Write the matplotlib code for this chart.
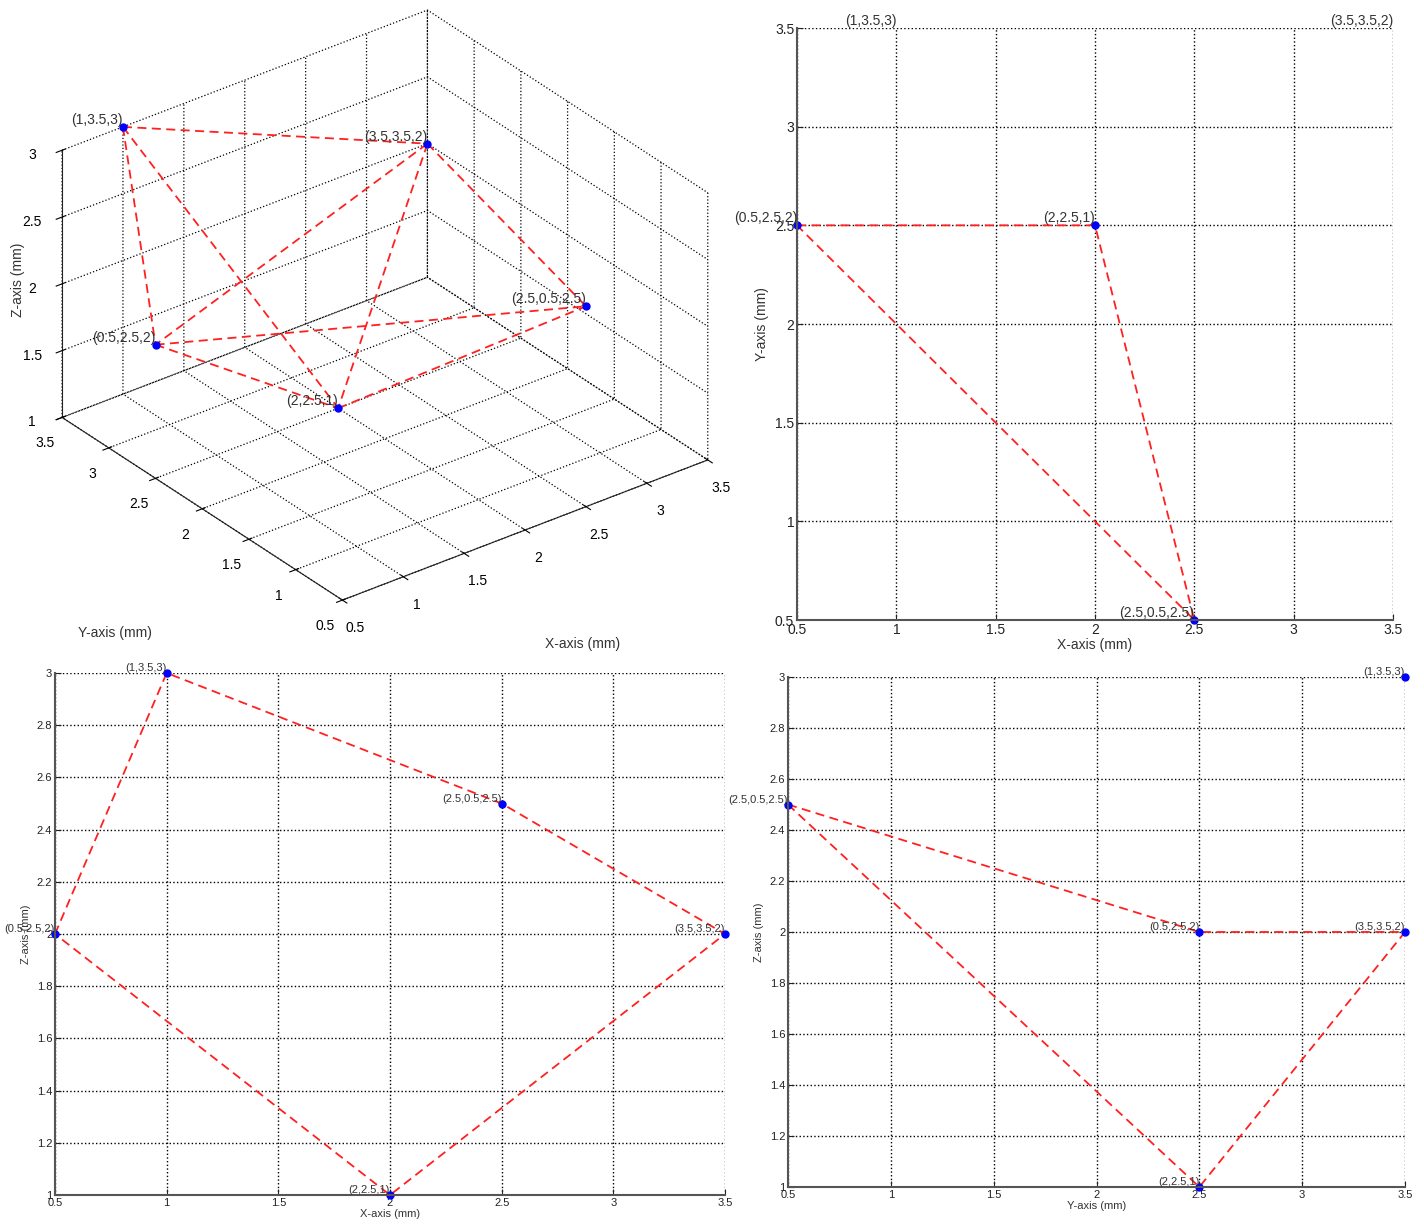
import matplotlib
matplotlib.use("Agg")
import matplotlib.pyplot as plt
import numpy as np

plt.rcParams['font.family'] = ['Liberation Sans', 'DejaVu Sans']
plt.rcParams['grid.linestyle'] = ':'
plt.rcParams['grid.color'] = 'k'
plt.rcParams['grid.linewidth'] = 1.0

# ---- data ----
px = [1.0, 3.5, 2.5, 0.5, 2.0]
py = [3.5, 3.5, 0.5, 2.5, 2.5]
pz = [3.0, 2.0, 2.5, 2.0, 1.0]
labels = ["(1,3.5,3)", "(3.5,3.5,2)", "(2.5,0.5,2.5)", "(0.5,2.5,2)", "(2,2.5,1)"]

# edges drawn in the 3D view (index pairs into the points)
edges_3d = [(0, 1), (0, 3), (0, 4), (1, 3), (1, 4), (1, 2), (3, 2), (3, 4), (4, 2)]
# polylines in the projections
xy_path = [3, 4, 2, 3]
xy_marked = [3, 4, 2]
xz_path = [3, 0, 2, 1, 4, 3]
yz_path = [2, 3, 1, 4, 2]

xyz_ticks = [0.5, 1, 1.5, 2, 2.5, 3, 3.5]
xyz_ticklabels = ["0.5", "1", "1.5", "2", "2.5", "3", "3.5"]
z3_ticks = [1, 1.5, 2, 2.5, 3]
z3_ticklabels = ["1", "1.5", "2", "2.5", "3"]
z2_ticks = [1, 1.2, 1.4, 1.6, 1.8, 2, 2.2, 2.4, 2.6, 2.8, 3]
z2_ticklabels = ["1", "1.2", "1.4", "1.6", "1.8", "2", "2.2", "2.4", "2.6", "2.8", "3"]

LINE = dict(color='#ff2020', linestyle=(0, (5, 3)), linewidth=1.3)
MARK = dict(color='#0000ff', marker='o', markersize=5, linestyle='none')
TXT = '#333333'

W, H = 1424, 1226
fig = plt.figure(figsize=(W / 100, H / 100), dpi=100)


def rect(l, t, r, b):
    return [l / W, 1 - b / H, (r - l) / W, (b - t) / H]


# ---------- 3D ----------
ax3 = fig.add_axes(rect(6, -16, 746, 644), projection='3d')
ax3.set_proj_type('ortho')
ax3.view_init(elev=30, azim=-127.5)
ax3.set_box_aspect((1, 1, 0.67), zoom=1.06)
ax3.set_xlim(0.5, 3.5)
ax3.set_ylim(0.5, 3.5)
ax3.set_zlim(1, 3)
ax3.set_xticks(xyz_ticks, xyz_ticklabels, fontsize=10)
ax3.set_yticks(xyz_ticks, xyz_ticklabels, fontsize=10)
ax3.set_zticks(z3_ticks, z3_ticklabels, fontsize=10)
for a in (ax3.xaxis, ax3.yaxis, ax3.zaxis):
    a.set_pane_color((1, 1, 1, 0))
    a.pane.set_edgecolor('#222222')
    a.line.set_color('#222222')
    a._axinfo['grid'].update({'linestyle': ':', 'color': 'k', 'linewidth': 0.9})
for i, j in edges_3d:
    ax3.plot([px[i], px[j]], [py[i], py[j]], [pz[i], pz[j]], **LINE)
ax3.plot(px, py, pz, **MARK)
for i in range(len(px)):
    ax3.text(px[i], py[i], pz[i], labels[i], ha='right', va='bottom', fontsize=10, color=TXT)
fig.text(115 / W, 1 - 633 / H, 'Y-axis (mm)', ha='center', va='center', fontsize=10, color=TXT)
fig.text(583 / W, 1 - 644 / H, 'X-axis (mm)', ha='center', va='center', fontsize=10, color=TXT)
fig.text(18 / W, 1 - 280 / H, 'Z-axis (mm)', ha='center', va='center', rotation=90, fontsize=10, color=TXT)


def style2d(ax, xt, xtl, yt, ytl, xl, yl, fs):
    ax.set_xticks(xt, xtl)
    ax.set_yticks(yt, ytl)
    ax.tick_params(direction='in', length=4, labelsize=fs, colors='#222222', pad=2)
    ax.grid(True, linestyle=':', color='k', linewidth=1.0)
    for s in ('top', 'right'):
        ax.spines[s].set_visible(False)
    for s in ('left', 'bottom'):
        ax.spines[s].set_color('#555555')
        ax.spines[s].set_linewidth(1.5)
    ax.set_xlabel(xl, fontsize=fs, labelpad=1, color=TXT)
    ax.set_ylabel(yl, fontsize=fs, labelpad=4, color=TXT)


# ---------- XY ----------
axy = fig.add_axes(rect(797, 28, 1393, 620))
axy.set_xlim(0.5, 3.5)
axy.set_ylim(0.5, 3.5)
style2d(axy, xyz_ticks, xyz_ticklabels, xyz_ticks, xyz_ticklabels, 'X-axis (mm)', 'Y-axis (mm)', 10)
axy.plot([px[k] for k in xy_path], [py[k] for k in xy_path], **LINE)
axy.plot([px[k] for k in xy_marked], [py[k] for k in xy_marked], clip_on=False, **MARK)
for i in range(len(px)):
    axy.text(px[i], py[i], labels[i], ha='right', va='bottom', fontsize=10, color=TXT)

# ---------- XZ ----------
axz = fig.add_axes(rect(55, 673, 725, 1195))
axz.set_xlim(0.5, 3.5)
axz.set_ylim(1, 3)
style2d(axz, xyz_ticks, xyz_ticklabels, z2_ticks, z2_ticklabels, 'X-axis (mm)', 'Z-axis (mm)', 8)
axz.plot([px[k] for k in xz_path], [pz[k] for k in xz_path], **LINE)
axz.plot(px, pz, clip_on=False, **MARK)
for i in range(len(px)):
    axz.text(px[i], pz[i], labels[i], ha='right', va='bottom', fontsize=8, color=TXT)

# ---------- YZ ----------
ayz = fig.add_axes(rect(788, 677, 1405, 1187))
ayz.set_xlim(0.5, 3.5)
ayz.set_ylim(1, 3)
style2d(ayz, xyz_ticks, xyz_ticklabels, z2_ticks, z2_ticklabels, 'Y-axis (mm)', 'Z-axis (mm)', 8)
ayz.plot([py[k] for k in yz_path], [pz[k] for k in yz_path], **LINE)
ayz.plot(py, pz, clip_on=False, **MARK)
for i in range(len(px)):
    ayz.text(py[i], pz[i], labels[i], ha='right', va='bottom', fontsize=8, color=TXT)

fig.savefig('out.png', dpi=100)
